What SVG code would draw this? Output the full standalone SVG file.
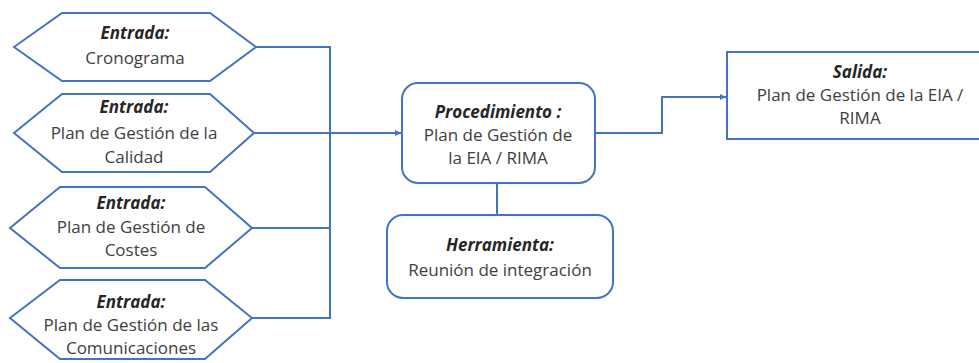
<svg xmlns="http://www.w3.org/2000/svg" width="979" height="363" viewBox="0 0 979 363">
<style>
.shape{fill:#ffffff;stroke:#4472C4;stroke-width:2}
.conn{fill:none;stroke:#4472C4;stroke-width:2}
text{font-family:"Open Sans","Liberation Sans",Arial,sans-serif;font-size:17px;fill:#404040;text-anchor:middle}
.t{font-weight:bold;font-style:italic;fill:#262626}
</style>
<defs>
<marker id="arr" viewBox="0 0 6 6" refX="6" refY="3" markerWidth="3" markerHeight="3" orient="auto" markerUnits="strokeWidth">
<path d="M0,0 L6,3 L0,6 Z" fill="#4472C4"/>
</marker>
</defs>
<rect width="979" height="363" fill="#ffffff"/>
<g id="connectors">
<path class="conn" d="M256,47 H330 V318 H252"/>
<path class="conn" d="M254,133 H401" marker-end="url(#arr)"/>
<path class="conn" d="M252,228 H330"/>
<path class="conn" d="M497,183 V215"/>
<path class="conn" d="M595,133 H662 V97 H726" marker-end="url(#arr)"/>
</g>
<g id="entrada1">
<polygon class="shape" points="14,47 62,13 210,13 256,47 210,81 62,81"/>
<text x="135" y="39" class="t">Entrada:</text>
<text x="135" y="64">Cronograma</text>
</g>
<g id="entrada2">
<polygon class="shape" points="14,133 62,94 210,94 254,133 210,172 62,172"/>
<text x="134" y="113" class="t">Entrada:</text>
<text x="134" y="139">Plan de Gestión de la</text>
<text x="134" y="163">Calidad</text>
</g>
<g id="entrada3">
<polygon class="shape" points="10,228 60,187 205,187 252,228 205,268 60,268"/>
<text x="131" y="209" class="t">Entrada:</text>
<text x="131" y="233">Plan de Gestión de</text>
<text x="131" y="256">Costes</text>
</g>
<g id="entrada4">
<polygon class="shape" points="10,318 60,280 205,280 252,318 205,359 60,359"/>
<text x="131" y="308" class="t">Entrada:</text>
<text x="131" y="331">Plan de Gestión de las</text>
<text x="131" y="354">Comunicaciones</text>
</g>
<g id="procedimiento">
<rect class="shape" x="402" y="83" width="193" height="100" rx="16"/>
<text x="498" y="118" class="t">Procedimiento :</text>
<text x="498" y="141">Plan de Gestión de</text>
<text x="498" y="164">la EIA / RIMA</text>
</g>
<g id="herramienta">
<rect class="shape" x="387" y="215" width="226" height="83" rx="16"/>
<text x="500" y="251" class="t">Herramienta:</text>
<text x="500" y="276">Reunión de integración</text>
</g>
<g id="salida">
<rect class="shape" x="727" y="52" width="262" height="87"/>
<text x="860" y="78" class="t">Salida:</text>
<text x="860" y="101">Plan de Gestión de la EIA /</text>
<text x="860" y="124">RIMA</text>
</g>
</svg>
